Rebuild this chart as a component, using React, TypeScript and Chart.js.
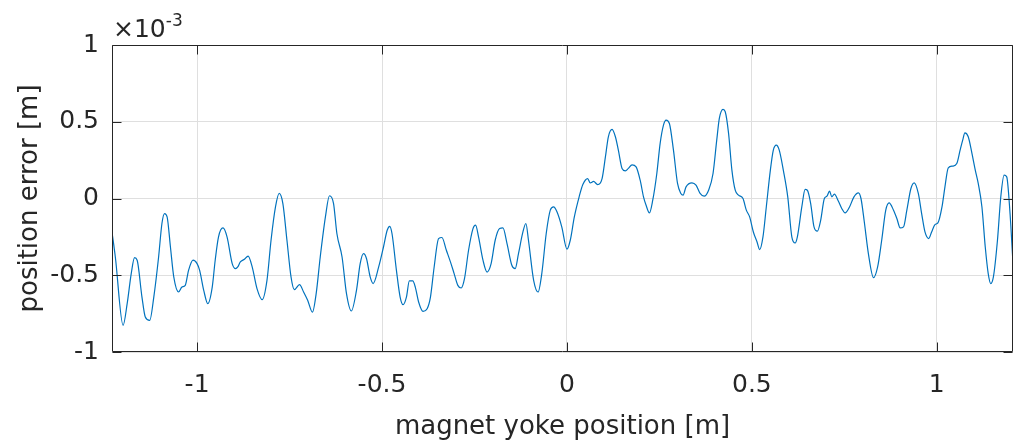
import React, { useEffect, useRef } from "react";
import { Chart, registerables } from "chart.js";

Chart.register(...registerables);

// magnet yoke position [m]
const positions: number[] = [
  -1.230, -1.221, -1.200, -1.189, -1.178, -1.169, -1.162, -1.149, -1.140, -1.128,
  -1.117, -1.104, -1.095, -1.088, -1.081, -1.072, -1.063, -1.050, -1.041, -1.032,
  -1.023, -1.011, -1.000, -0.993, -0.982, -0.971, -0.959, -0.951, -0.942, -0.930,
  -0.919, -0.905, -0.896, -0.890, -0.883, -0.872, -0.862, -0.851, -0.838, -0.824,
  -0.811, -0.800, -0.788, -0.778, -0.768, -0.757, -0.746, -0.737, -0.723, -0.712,
  -0.701, -0.688, -0.678, -0.667, -0.653, -0.642, -0.631, -0.622, -0.608, -0.596,
  -0.583, -0.569, -0.559, -0.550, -0.542, -0.532, -0.524, -0.509, -0.496, -0.486,
  -0.479, -0.473, -0.461, -0.451, -0.443, -0.434, -0.426, -0.417, -0.410, -0.401,
  -0.389, -0.378, -0.369, -0.359, -0.347, -0.338, -0.326, -0.315, -0.305, -0.295,
  -0.286, -0.277, -0.266, -0.254, -0.247, -0.239, -0.227, -0.216, -0.205, -0.194,
  -0.182, -0.173, -0.162, -0.149, -0.140, -0.131, -0.119, -0.111, -0.104, -0.090,
  -0.078, -0.068, -0.056, -0.045, -0.036, -0.027, -0.014, 0.000, 0.009, 0.020,
  0.033, 0.043, 0.056, 0.063, 0.072, 0.083, 0.095, 0.104, 0.112, 0.122,
  0.131, 0.139, 0.149, 0.158, 0.166, 0.176, 0.187, 0.198, 0.207, 0.214,
  0.223, 0.232, 0.243, 0.252, 0.261, 0.268, 0.277, 0.288, 0.299, 0.308,
  0.314, 0.322, 0.338, 0.349, 0.360, 0.371, 0.383, 0.395, 0.405, 0.412,
  0.422, 0.428, 0.437, 0.446, 0.455, 0.464, 0.476, 0.485, 0.494, 0.504,
  0.514, 0.521, 0.530, 0.539, 0.550, 0.558, 0.566, 0.574, 0.585, 0.597,
  0.608, 0.617, 0.623, 0.635, 0.644, 0.650, 0.659, 0.668, 0.677, 0.686,
  0.696, 0.703, 0.710, 0.716, 0.723, 0.734, 0.743, 0.752, 0.764, 0.776,
  0.788, 0.795, 0.804, 0.815, 0.829, 0.840, 0.851, 0.862, 0.871, 0.883,
  0.892, 0.901, 0.910, 0.919, 0.930, 0.939, 0.950, 0.959, 0.968, 0.978,
  0.986, 0.995, 1.003, 1.014, 1.022, 1.031, 1.043, 1.054, 1.063, 1.070,
  1.076, 1.085, 1.095, 1.104, 1.112, 1.122, 1.131, 1.139, 1.146, 1.153,
  1.164, 1.173, 1.182, 1.189, 1.198, 1.205,
];

// position error [m], in units of 1e-3
const errors: number[] = [
  -0.218, -0.381, -0.826, -0.685, -0.489, -0.385, -0.402, -0.642, -0.772, -0.794,
  -0.642, -0.381, -0.163, -0.098, -0.120, -0.316, -0.511, -0.609, -0.577, -0.566,
  -0.468, -0.402, -0.424, -0.468, -0.598, -0.685, -0.577, -0.402, -0.250, -0.192,
  -0.250, -0.424, -0.457, -0.446, -0.413, -0.396, -0.376, -0.446, -0.587, -0.659,
  -0.533, -0.272, -0.055, 0.033, -0.033, -0.272, -0.511, -0.594, -0.561, -0.609,
  -0.663, -0.740, -0.620, -0.381, -0.120, 0.018, -0.033, -0.228, -0.381, -0.620,
  -0.733, -0.598, -0.424, -0.359, -0.391, -0.511, -0.554, -0.446, -0.316, -0.207,
  -0.181, -0.228, -0.468, -0.642, -0.692, -0.642, -0.537, -0.537, -0.577, -0.674,
  -0.735, -0.718, -0.642, -0.446, -0.261, -0.254, -0.337, -0.413, -0.489, -0.566,
  -0.583, -0.522, -0.337, -0.196, -0.174, -0.250, -0.402, -0.479, -0.424, -0.272,
  -0.196, -0.192, -0.294, -0.435, -0.457, -0.359, -0.218, -0.163, -0.272, -0.533,
  -0.609, -0.489, -0.228, -0.076, -0.055, -0.087, -0.185, -0.330, -0.272, -0.120,
  0.011, 0.091, 0.130, 0.102, 0.111, 0.091, 0.130, 0.271, 0.402, 0.450,
  0.402, 0.315, 0.196, 0.180, 0.196, 0.219, 0.206, 0.119, 0.011, -0.044,
  -0.094, -0.011, 0.163, 0.359, 0.478, 0.511, 0.489, 0.315, 0.098, 0.033,
  0.022, 0.076, 0.102, 0.087, 0.033, 0.015, 0.054, 0.163, 0.380, 0.522,
  0.581, 0.565, 0.424, 0.185, 0.054, 0.022, 0.000, -0.076, -0.120, -0.218,
  -0.283, -0.333, -0.250, -0.055, 0.185, 0.315, 0.348, 0.315, 0.185, 0.011,
  -0.250, -0.290, -0.250, -0.055, 0.059, 0.054, -0.033, -0.185, -0.213, -0.142,
  0.000, 0.015, 0.048, 0.011, 0.028, -0.018, -0.065, -0.094, -0.055, 0.011,
  0.037, 0.000, -0.153, -0.359, -0.516, -0.446, -0.272, -0.076, -0.029, -0.076,
  -0.130, -0.192, -0.185, -0.076, 0.065, 0.102, 0.033, -0.098, -0.218, -0.261,
  -0.218, -0.170, -0.159, -0.055, 0.076, 0.200, 0.211, 0.228, 0.315, 0.380,
  0.428, 0.402, 0.294, 0.185, 0.098, -0.055, -0.316, -0.489, -0.554, -0.511,
  -0.272, 0.011, 0.152, 0.141, -0.098, -0.381,
];

const xTickValues: number[] = [-1, -0.5, 0, 0.5, 1];
const yTickValues: number[] = [-1, -0.5, 0, 0.5, 1];
const xLabel = "magnet yoke position [m]";
const yLabel = "position error [m]";
const exponentBase = "\u00d710";
const exponentPower = "-3";

const TEXT = "#262626";
const FONT = "'DejaVu Sans', 'Liberation Sans', Arial, sans-serif";
const SIZE = 25;
const TITLE_SIZE = 26;

const boxPlugin = {
  id: "matlabBox",
  afterDraw(chart: any) {
    const { ctx, chartArea, scales } = chart;
    const { left, right, top, bottom } = chartArea;
    const L = Math.round(left) + 0.5;
    const R = Math.round(right) - 0.5;
    const T = Math.round(top) + 0.5;
    const B = Math.round(bottom) - 0.5;
    ctx.save();
    ctx.strokeStyle = TEXT;
    ctx.lineWidth = 1;
    ctx.beginPath();
    ctx.rect(L, T, R - L, B - T);
    ctx.stroke();
    const tl = 9;
    ctx.beginPath();
    for (const v of xTickValues) {
      const px = Math.round(scales.x.getPixelForValue(v)) + 0.5;
      ctx.moveTo(px, B);
      ctx.lineTo(px, B - tl);
      ctx.moveTo(px, T);
      ctx.lineTo(px, T + tl);
    }
    for (const v of yTickValues) {
      const py = Math.round(scales.y.getPixelForValue(v)) + 0.5;
      ctx.moveTo(L, py);
      ctx.lineTo(L + tl, py);
      ctx.moveTo(R, py);
      ctx.lineTo(R - tl, py);
    }
    ctx.stroke();
    // exponent label
    ctx.fillStyle = TEXT;
    ctx.textBaseline = "alphabetic";
    ctx.textAlign = "left";
    ctx.font = `${SIZE}px ${FONT}`;
    ctx.fillText(exponentBase, left + 1, top - 8);
    const w = ctx.measureText(exponentBase).width;
    ctx.font = `17px ${FONT}`;
    ctx.fillText(exponentPower, left + 1 + w, top - 19);
    ctx.restore();
  },
};

export default function App() {
  const ref = useRef<HTMLCanvasElement | null>(null);
  useEffect(() => {
    if (!ref.current) return;
    const data = positions.map((x, i) => ({ x, y: errors[i] }));
    const chart = new Chart(ref.current, {
      type: "line",
      data: {
        datasets: [
          {
            data,
            borderColor: "#0072BD",
            borderWidth: 1.2,
            pointRadius: 0,
            fill: false,
            tension: 0,
            cubicInterpolationMode: "monotone",
          },
        ],
      },
      options: {
        responsive: false,
        animation: false,
        parsing: false as any,
        layout: { padding: { top: 45, right: 1, left: 0, bottom: 0 } },
        plugins: {
          legend: { display: false },
          tooltip: { enabled: false },
        },
        scales: {
          x: {
            type: "linear",
            min: -1.23,
            max: 1.206,
            afterBuildTicks(scale: any) {
              scale.ticks = xTickValues.map((v) => ({ value: v }));
            },
            afterFit(scale: any) {
              scale.height = 96;
            },
            grid: { color: "#dfdfdf", drawTicks: false, lineWidth: 1 },
            border: { display: false },
            ticks: {
              color: TEXT,
              font: { family: FONT, size: SIZE },
              padding: 18,
              maxRotation: 0,
              autoSkip: false,
              callback: (v: any) => String(v),
            },
            title: {
              display: true,
              text: xLabel,
              color: TEXT,
              font: { family: FONT, size: TITLE_SIZE },
              padding: { top: 0, bottom: 5 },
            },
          },
          y: {
            type: "linear",
            min: -1,
            max: 1,
            afterBuildTicks(scale: any) {
              scale.ticks = yTickValues.map((v) => ({ value: v }));
            },
            afterFit(scale: any) {
              scale.width = 112;
            },
            grid: { color: "#dfdfdf", drawTicks: false, lineWidth: 1 },
            border: { display: false },
            ticks: {
              color: TEXT,
              font: { family: FONT, size: SIZE },
              padding: 13,
              autoSkip: false,
              callback: (v: any) => String(v),
            },
            title: {
              display: true,
              text: yLabel,
              color: TEXT,
              font: { family: FONT, size: TITLE_SIZE },
              padding: { top: 15, bottom: 0 },
            },
          },
        },
      },
      plugins: [boxPlugin],
    });
    return () => chart.destroy();
  }, []);
  return (
    <div style={{ position: "fixed", left: 0, top: 0, width: 1014, height: 448, background: "#fff" }}>
      <canvas ref={ref} width={1014} height={448} style={{ display: "block" }} />
    </div>
  );
}
